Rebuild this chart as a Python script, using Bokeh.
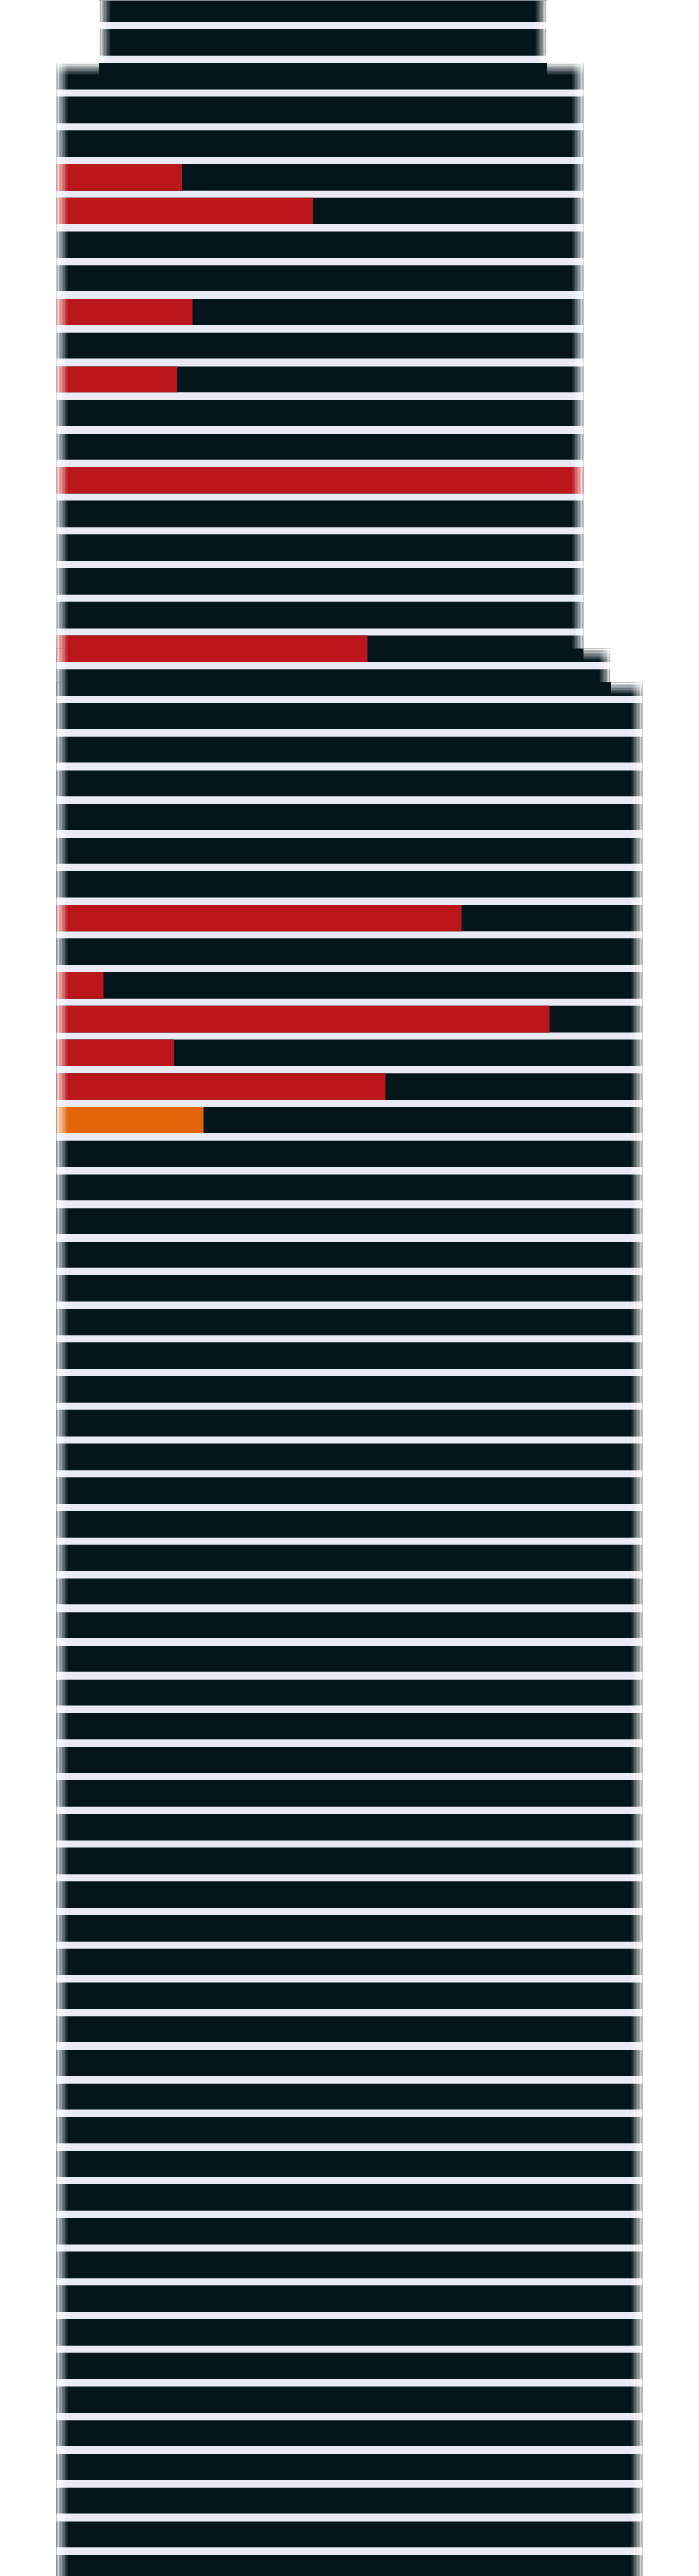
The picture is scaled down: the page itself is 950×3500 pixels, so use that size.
from bokeh.plotting import figure
from bokeh.models import Range1d
from bokeh.embed import file_html
from bokeh.resources import INLINE

# ---------------- data ----------------
floors = list(range(77))                      # storeys, counted from the top of the view
section_names  = ["crown", "upper", "setback", "base"]
section_top    = [-1.0, 1.61, 19.0, 20.0]     # in floor units
section_bottom = [1.61, 19.0, 20.0, 77.0]
section_left   = [58, 0, 0, 0]                # width units
section_right  = [667, 717, 754, 797]

hl_floor = [5, 6, 9, 11, 14, 19, 27, 29, 30, 31, 32, 33]
hl_value = [171, 349, 185, 164, 717, 423, 551, 64, 670, 160, 447, 200]
hl_kind  = ["red", "red", "red", "red", "red", "red", "red", "red", "red", "red", "red", "orange"]

# ---------------- style ----------------
DARK = "#05151C"
GAP = "#E9EAF3"
KIND_COLOR = {"red": "#BC161D", "orange": "#E36309"}
PX_Y = 45.75                 # pixels per floor
BAR_H = 35.75 / PX_Y
GAP_H = 1 - BAR_H
FADE_N, FADE_W = 8, 2.0      # fade strips (count, px each)

p = figure(width=950, height=3500,
           x_range=Range1d(-76, 874), y_range=Range1d(76.2486, -0.2541),
           output_backend="svg", toolbar_location=None, min_border=0,
           x_axis_location=None, y_axis_location=None)
p.grid.visible = False
p.outline_line_color = None
p.background_fill_color = "white"
p.border_fill_color = "white"

# building silhouette (each section drawn down to the base, wider ones overlap -> no seams)
base_bottom = max(section_bottom)
p.quad(left=section_left, right=section_right, top=section_top,
       bottom=[base_bottom] * len(section_top),
       fill_color=DARK, line_color=None)

# gaps between floors
def section_at(y):
    for s in range(len(section_names)):
        if section_top[s] <= y < section_bottom[s]:
            return s
    return len(section_names) - 1

gl, gr, gt, gb = [], [], [], []
for f in floors[:-1]:
    yc = f + 0.5
    s = section_at(yc)
    gl.append(section_left[s]); gr.append(section_right[s])
    gt.append(yc - GAP_H / 2); gb.append(yc + GAP_H / 2)
p.quad(left=gl, right=gr, top=gt, bottom=gb, fill_color=GAP, line_color=None)

# highlighted floors
p.hbar(y=hl_floor, left=0, right=hl_value, height=BAR_H,
       fill_color=[KIND_COLOR[k] for k in hl_kind], line_color=None)

# soft edges: white fade inward from the silhouette outline
fl, fr, ft, fb, fa = [], [], [], [], []
dy = FADE_W / PX_Y
for s in range(len(section_names)):
    L, R, T, B = section_left[s], section_right[s], section_top[s], section_bottom[s]
    for k in range(FADE_N):
        a = 1 - (k + 0.5) / FADE_N
        fl += [L + k * FADE_W, R - (k + 1) * FADE_W]
        fr += [L + (k + 1) * FADE_W, R - k * FADE_W]
        ft += [T, T]; fb += [B, B]; fa += [a, a]
    if s > 0:
        pL, pR = section_left[s - 1], section_right[s - 1]
        spans = []
        if L < pL:
            spans.append((L, pL))
        if R > pR:
            spans.append((pR, R))
        for (x0, x1) in spans:
            for k in range(FADE_N):
                a = 1 - (k + 0.5) / FADE_N
                fl.append(x0); fr.append(x1)
                ft.append(T + k * dy); fb.append(T + (k + 1) * dy); fa.append(a)
p.quad(left=fl, right=fr, top=ft, bottom=fb, fill_color="white", fill_alpha=fa, line_color=None)

open("out.html", "w").write(file_html(p, INLINE))
